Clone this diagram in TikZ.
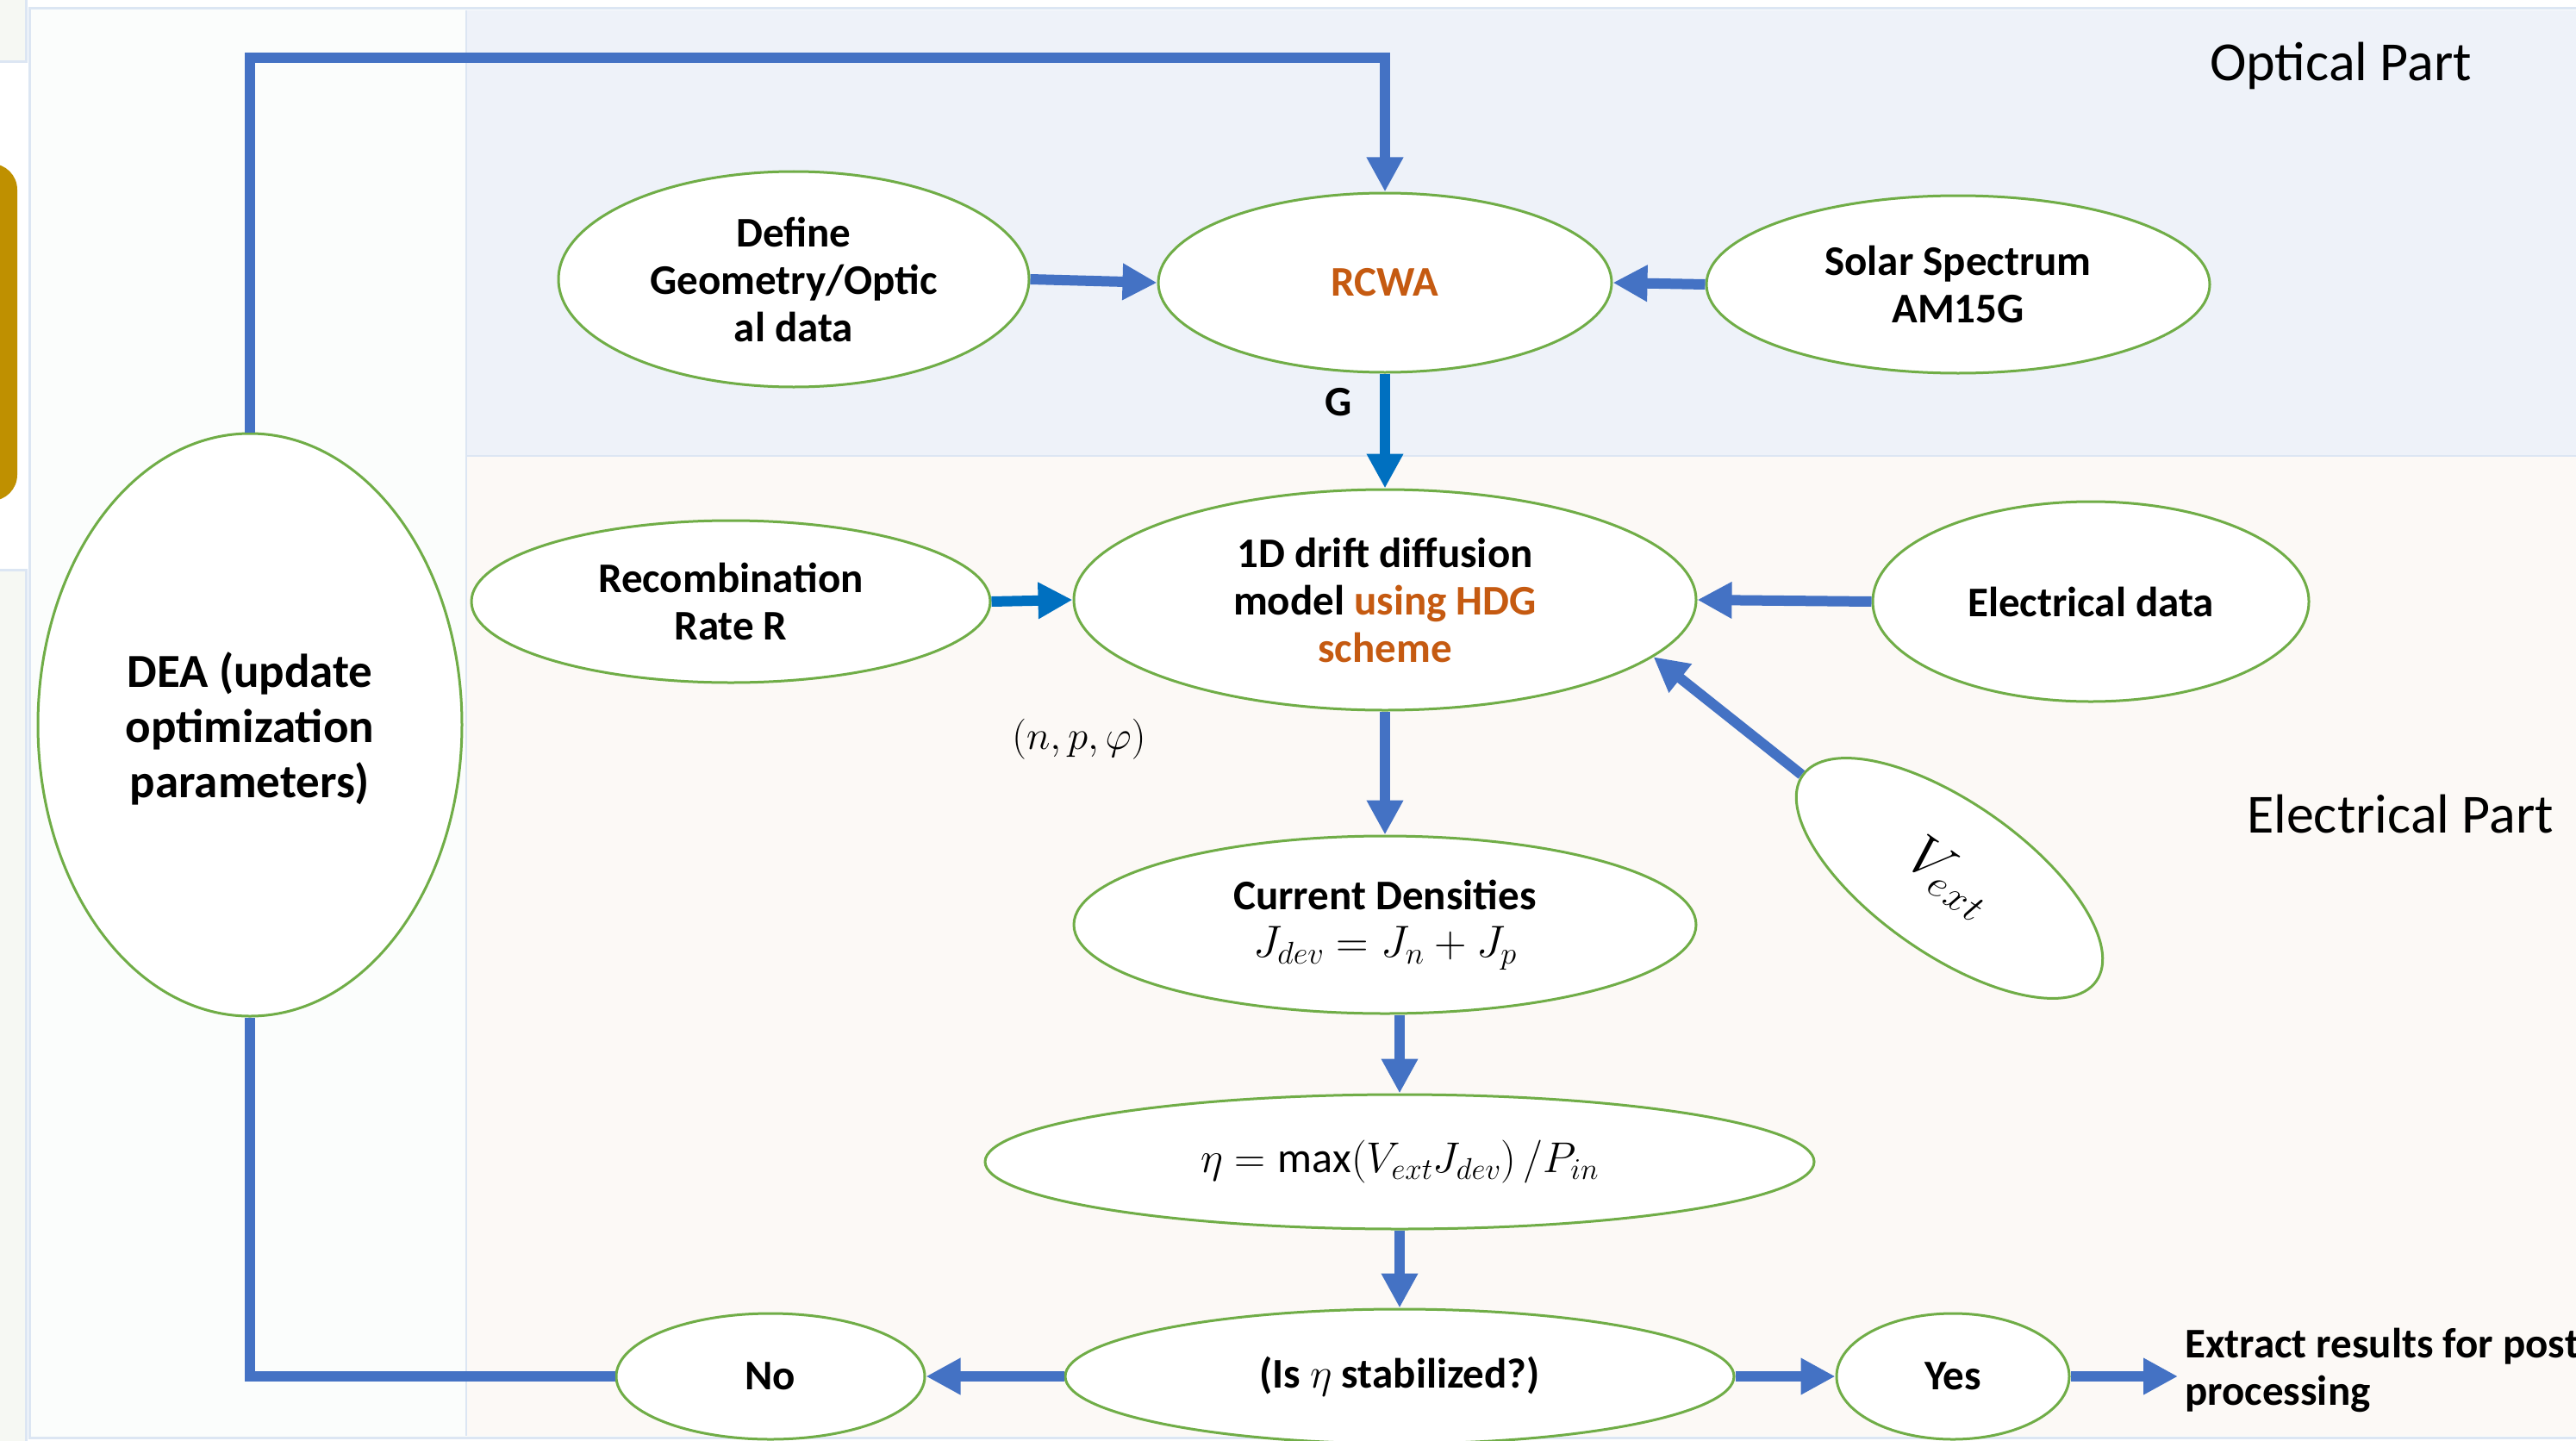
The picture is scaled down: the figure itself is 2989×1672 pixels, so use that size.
\RequirePackage{fix-cm}
\documentclass[tikz,border=0pt]{standalone}
\usepackage{fontspec}
\setmainfont{Carlito}
\usetikzlibrary{shapes.geometric,arrows.meta,calc}
\definecolor{egreen}{HTML}{70AD47}
\definecolor{ablue}{HTML}{4472C4}
\definecolor{dblue}{HTML}{0070C0}
\definecolor{otxt}{HTML}{C55A11}
\definecolor{goldc}{HTML}{BF9000}
\definecolor{optfill}{HTML}{EEF2F9}
\definecolor{elfill}{HTML}{FCF9F6}
\definecolor{leftfill}{HTML}{FBFDFC}
\definecolor{grayfill}{HTML}{F6F8F3}
\definecolor{bordc}{HTML}{DCE6F3}
\newcommand{\nodefont}{\fontsize{49}{55}\selectfont\bfseries}
\tikzset{
  ell/.style={ellipse, draw=egreen, line width=3pt, fill=white, inner sep=0pt, align=center, font=\nodefont},
  arr/.style={draw=ablue, line width=12pt, -{Triangle[length=40pt,width=40pt]}},
  darr/.style={arr, draw=dblue},
  panel/.style={draw=bordc, line width=3pt},
}
\begin{document}
\begin{tikzpicture}[x=1pt,y=-1pt]
\useasboundingbox (0,0) rectangle (2989,1672);
% background panels
\fill[grayfill] (-10,-10) rectangle (30,72);
\draw[panel] (30,-10) -- (30,72) -- (-10,72);
\fill[goldc, rounded corners=30pt] (-60,190) rectangle (20,581);
\fill[grayfill] (-10,661) rectangle (30,1690);
\draw[panel] (-10,661) -- (30,661) -- (30,1690);
\filldraw[fill=leftfill, panel] (34,10) rectangle (3000,1668);
\fill[optfill] (541,12) rectangle (3000,529);
\fill[elfill] (541,529) rectangle (3000,1666);
\draw[bordc, line width=2pt] (541,12) -- (541,1666);
\draw[bordc, line width=2pt] (541,529) -- (3000,529);
% labels
\node (opt) at (2716,76) {\fontsize{64}{70}\selectfont Optical Part};
\node (elp) at (2785,945) {\fontsize{64}{70}\selectfont Electrical Part};
% nodes
\node[ell, minimum width=546pt, minimum height=250pt] (def) at (921,324) {Define\\Geometry/Optic\\al data};
\node[ell, minimum width=526pt, minimum height=208pt] (rcwa) at (1607,328) {\textcolor{otxt}{RCWA}};
\node[ell, minimum width=584pt, minimum height=206pt] (sol) at (2272,330) {Solar Spectrum\\AM15G};
\node[ell, minimum width=602pt, minimum height=188pt] (rec) at (848,698) {Recombination\\Rate R};
\node[ell, minimum width=722pt, minimum height=256pt] (dd) at (1607,696) {1D drift diffusion\\model \textcolor{otxt}{using HDG}\\\textcolor{otxt}{scheme}};
\node[ell, minimum width=506pt, minimum height=232pt] (edat) at (2426,698) {Electrical data};
\node[ell, minimum width=492pt, minimum height=676pt, font=\fontsize{55}{64}\selectfont\bfseries] (dea) at (290,841) {\rule{0pt}{50pt}DEA (update\\optimization\\parameters)};
\node[ell, minimum width=722pt, minimum height=206pt] (cur) at (1607,1073) {Current Densities\\{\fontsize{52}{55}\selectfont\mdseries $J_{dev}=J_n+J_p$}};
\node[ell, minimum width=416pt, minimum height=176pt, rotate=-35, font=\fontsize{66}{70}\selectfont] (vext) at (2262,1019) {$V_{e\mkern1mu x\mkern1mu t}$};
\node[ell, minimum width=962pt, minimum height=156pt, font=\fontsize{50}{55}\selectfont] (eta) at (1624,1348) {$\eta=\max(V_{ext}J_{dev})\,/P_{in}$};
\node[ell, minimum width=776pt, minimum height=156pt] (stab) at (1624,1597) {(Is $\eta$ stabilized?)};
\node[ell, minimum width=358pt, minimum height=146pt] (no) at (894,1597) {No};
\node[ell, minimum width=270pt, minimum height=146pt] (yes) at (2266,1597) {Yes};
\node[anchor=west, align=left, inner sep=8pt, font=\nodefont] (ext) at (2527,1590) {Extract results for post\\processing};
\node[font=\nodefont] (glab) at (1553,467) {G};
\node[font=\fontsize{47}{50}\selectfont] (npf) at (1252,858) {$(n,p,\varphi)$};
% connectors
\coordinate (topy) at (0,67);
\draw[arr] (dea.north) |- (topy -| rcwa.north) -- (rcwa.north);
\draw[arr] (def.east) -- (rcwa.west);
\draw[arr] (sol.west) -- (rcwa.east);
\draw[darr] (rcwa.south) -- (dd.north);
\draw[darr] (rec.east) -- (dd.west);
\draw[arr] (edat.west) -- (dd.east);
\draw[arr] (vext.west) -- (dd.-12);
\draw[arr] (dd.south) -- (cur.north);
\draw[arr] (eta.north |- cur.south) -- (eta.north);
\draw[arr] (eta.south) -- (stab.north);
\draw[arr] (stab.west) -- (no.east);
\draw[arr] (stab.east) -- (yes.west);
\draw[arr] (yes.east) -- (yes.east -| ext.west);
\draw[draw=ablue, line width=12pt] (no.west) -| (dea.south);
\end{tikzpicture}
\end{document}
